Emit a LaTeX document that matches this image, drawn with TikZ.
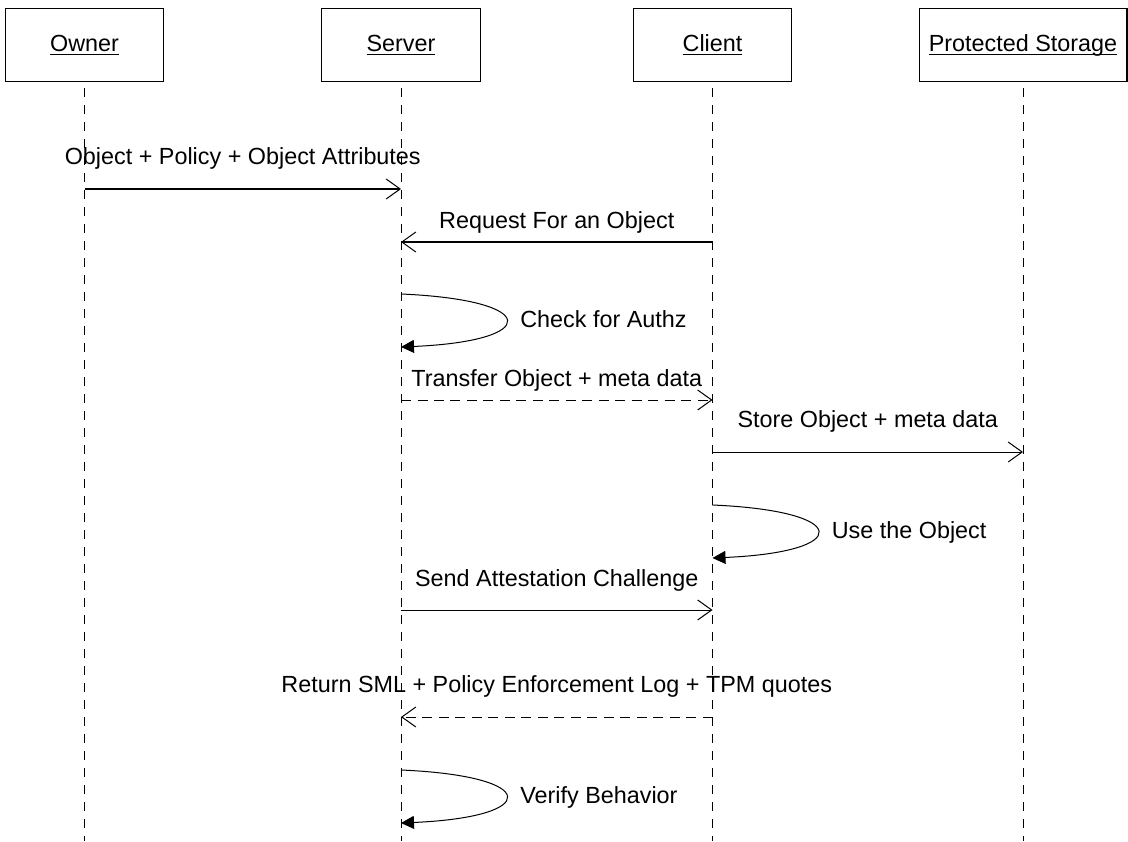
\documentclass[tikz,border=0pt]{standalone}
\usepackage{fontspec}
\setmainfont{Liberation Sans}
\usetikzlibrary{positioning, arrows.meta}

\newcommand{\actorname}[1]{\underline{\vphantom{Ol}\smash{#1}}}

\begin{document}
\begin{tikzpicture}[
    x=0.02cm, y=-0.02cm,
    line width=0.57pt,
    font=\fontsize{13.3}{15}\selectfont,
    actor/.style={rectangle, draw, minimum width=3.18cm, minimum height=1.48cm},
    lifeline/.style={dash pattern=on 0.18cm off 0.16cm},
    call/.style={-{Straight Barb[length=0.28cm, width=0.4cm]}},
    answer/.style={call, dash pattern=on 0.2cm off 0.13cm},
    selfcall/.style={-{Triangle[length=0.26cm, width=0.26cm]}},
    msg/.style={midway, anchor=base, yshift=#1},
    msg/.default=0.5cm,
    note/.style={anchor=base west, xshift=0.16cm, yshift=-0.14cm}
]
    \useasboundingbox (0,0) rectangle (1128,841);

    % Actors
    \node[actor] (owner) at (84.5,45) {\actorname{Owner}};
    \node[actor] (server) at (401,45) {\actorname{Server}};
    \node[actor] (client) at (712.5,45) {\actorname{Client}};
    \node[actor, minimum width=4.16cm] (storage) at (1023,45) {\actorname{Protected Storage}};

    % Lifelines
    \foreach \a in {owner, server, client, storage}
        \draw[lifeline] ([yshift=-0.12cm]\a.south) -- (\a |- 0,841);

    % Messages
    \draw[call] (owner |- 0,189) -- node[msg] (m1) {Object + Policy + Object Attributes} (server |- 0,189);
    \draw[call] (client |- 0,242) -- node[msg=0.28cm] (m2) {Request For an Object} (server |- 0,242);
    \draw[selfcall] (server |- 0,294) .. controls +(140,6) and +(140,-6) .. (server |- 0,347)
        node[pos=0.5, note] (m3) {Check for Authz};
    \draw[answer] (server |- 0,400) -- node[msg=0.28cm] (m4) {Transfer Object + meta data} (client |- 0,400);
    \draw[call] (client |- 0,452) -- node[msg] (m5) {Store Object + meta data} (storage |- 0,452);
    \draw[selfcall] (client |- 0,505) .. controls +(140,6) and +(140,-6) .. (client |- 0,558)
        node[pos=0.5, note] (m6) {Use the Object};
    \draw[call] (server |- 0,610) -- node[msg=0.48cm] (m7) {Send Attestation Challenge} (client |- 0,610);
    \draw[answer] (client |- 0,717) -- node[msg] (m8) {Return SML + Policy Enforcement Log + TPM quotes} (server |- 0,717);
    \draw[selfcall] (server |- 0,770) .. controls +(140,6) and +(140,-6) .. (server |- 0,823)
        node[pos=0.5, note] (m9) {Verify Behavior};
\end{tikzpicture}
\end{document}
